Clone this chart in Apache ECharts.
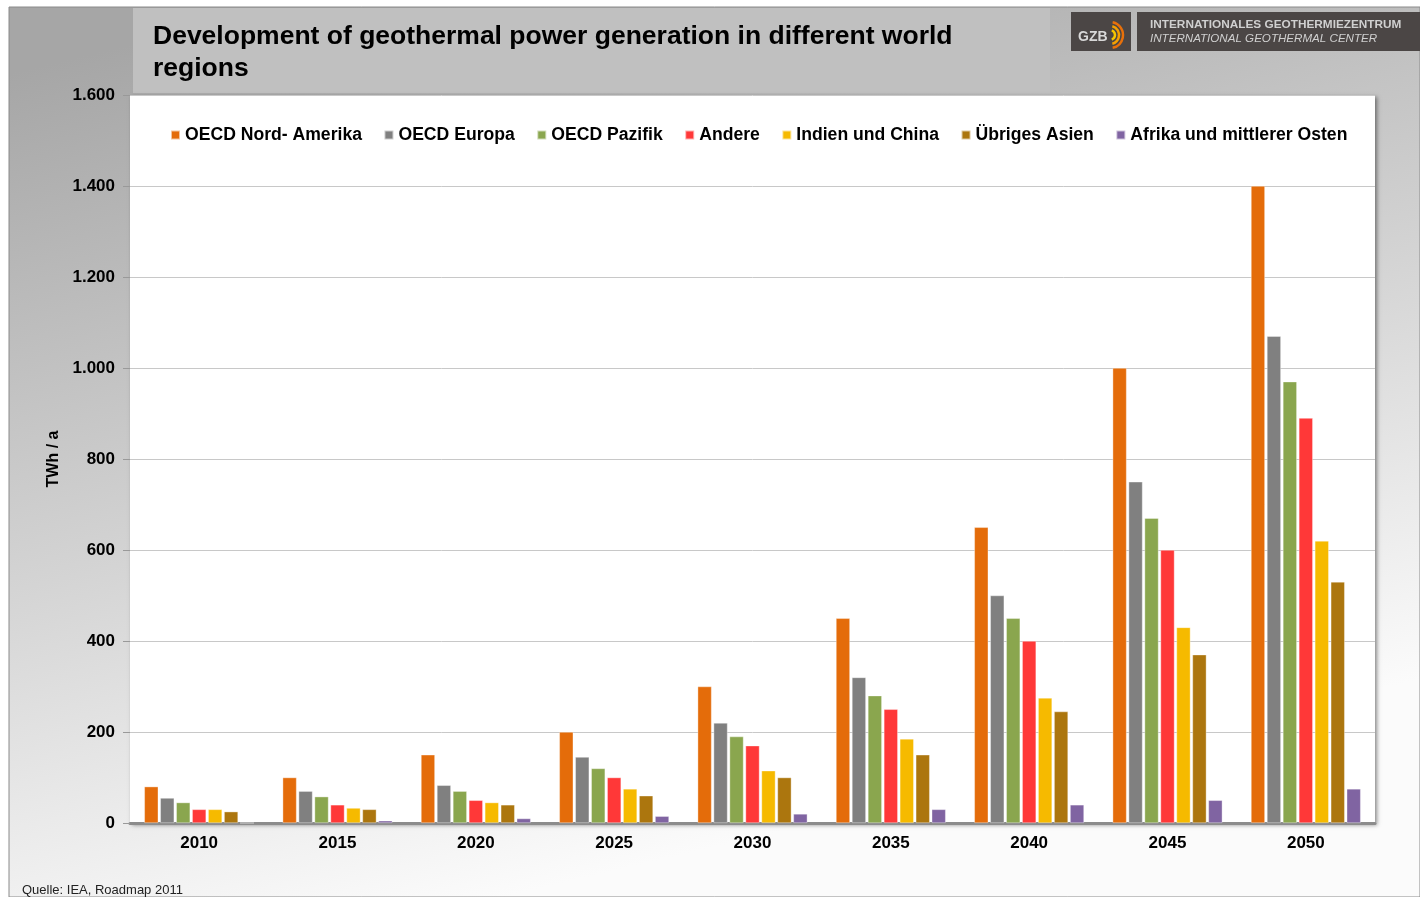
<!DOCTYPE html>
<html>
<head>
<meta charset="utf-8">
<script src="https://cdn.jsdelivr.net/npm/echarts@6/dist/echarts.min.js"></script>
<style>
html,body{margin:0;padding:0;background:#fff;}
#main{width:1420px;height:897px;}
</style>
</head>
<body>
<div id="main"></div>
<script>
const categories = ['2010','2015','2020','2025','2030','2035','2040','2045','2050'];
const seriesNames = ['OECD Nord- Amerika','OECD Europa','OECD Pazifik','Andere','Indien und China','Übriges Asien','Afrika und mittlerer Osten'];
const nordAmerika = [80, 100, 150, 200, 300, 450, 650, 1000, 1400];
const europa      = [55, 70, 83, 145, 220, 320, 500, 750, 1070];
const pazifik     = [45, 58, 70, 120, 190, 280, 450, 670, 970];
const andere      = [30, 40, 50, 100, 170, 250, 400, 600, 890];
const indienChina = [30, 33, 45, 75, 115, 185, 275, 430, 620];
const uebrAsien   = [25, 30, 40, 60, 100, 150, 245, 370, 530];
const afrikaMO    = [0, 5, 10, 15, 20, 30, 40, 50, 75];
const seriesData = [nordAmerika, europa, pazifik, andere, indienChina, uebrAsien, afrikaMO];
const colors = ['#E46C0A','#808080','#8AA64E','#FF3838','#F6BA00','#AC760E','#8064A2'];
const yTicks = [0,200,400,600,800,1000,1200,1400,1600];

const chart = echarts.init(document.getElementById('main'), null, {renderer:'canvas'});
const FONT = 'Liberation Sans, Arial, sans-serif';

function fmt(v){
  return String(v).replace(/\B(?=(\d{3})+(?!\d))/g, '.');
}

const option = {
  animation:false,
  backgroundColor:'#ffffff',
  graphic:[
    {type:'rect', z:-10, silent:true, shape:{x:9,y:7,width:1411,height:890},
     style:{fill:new echarts.graphic.LinearGradient(0.2,0,0.35,1,[
       {offset:0,color:'#a6a6a6'},{offset:0.55,color:'#d4d4d4'},{offset:1,color:'#fbfbfb'}]),
       stroke:'#8a8a8a', lineWidth:1}},
    {type:'rect', z:-9, silent:true, shape:{x:133,y:8,width:917,height:85}, style:{fill:'#c0c0c0'}},
    {type:'text', z:10, left:153, top:21, style:{text:'Development of geothermal power generation in different world\nregions', font:'bold 26.5px '+FONT, fill:'#000', lineHeight:32}},
    {type:'rect', z:5, shape:{x:1071,y:12,width:60,height:39}, style:{fill:'#4b4645'}},
    {type:'rect', z:5, shape:{x:1137,y:12,width:283,height:39}, style:{fill:'#4b4645'}},
    {type:'text', z:6, left:1078, top:30, style:{text:'GZB', font:'bold 14px '+FONT, fill:'#d8d8d8'}},
    {type:'arc', z:6, shape:{cx:1110,cy:35,r:5,startAngle:-Math.PI/2.6,endAngle:Math.PI/2.6}, style:{stroke:'#f7c600',lineWidth:2.5,fill:null}},
    {type:'arc', z:6, shape:{cx:1110,cy:35,r:9,startAngle:-Math.PI/2.4,endAngle:Math.PI/2.4}, style:{stroke:'#f5a000',lineWidth:2.5,fill:null}},
    {type:'arc', z:6, shape:{cx:1110,cy:35,r:13,startAngle:-Math.PI/2.3,endAngle:Math.PI/2.3}, style:{stroke:'#e8700a',lineWidth:2.5,fill:null}},
    {type:'text', z:6, left:1150, top:19, style:{text:'INTERNATIONALES GEOTHERMIEZENTRUM', font:'bold 11.8px '+FONT, fill:'#d0d0d0'}},
    {type:'text', z:6, left:1150, top:33, style:{text:'INTERNATIONAL GEOTHERMAL CENTER', font:'italic 11.6px '+FONT, fill:'#d0d0d0'}},
    {type:'text', z:6, left:22, top:884, style:{text:'Quelle: IEA, Roadmap 2011', font:'13px '+FONT, fill:'#222'}}
  ],
  legend:{
    top:121, left:165,
    itemWidth:9, itemHeight:9, icon:'rect', itemGap:21.5,
    textStyle:{fontFamily:FONT, fontWeight:'bold', fontSize:17.6, color:'#000'},
    data:seriesNames
  },
  grid:{
    left:130, right:45, top:95, bottom:74,
    show:true, backgroundColor:'#ffffff', borderWidth:0,
    shadowBlur:4, shadowColor:'rgba(0,0,0,0.45)', shadowOffsetX:2, shadowOffsetY:2
  },
  xAxis:{
    type:'category', data:categories,
    axisLine:{lineStyle:{color:'#8c8c8c', width:3}},
    axisTick:{show:false},
    axisLabel:{fontFamily:FONT, fontWeight:'bold', fontSize:17, color:'#000', margin:12}
  },
  yAxis:{
    type:'value', min:0, max:1600, interval:200,
    name:'TWh / a', nameLocation:'middle', nameGap:68, nameRotate:90,
    nameTextStyle:{fontFamily:FONT, fontWeight:'bold', fontSize:16, color:'#000'},
    axisLine:{show:false},
    axisTick:{show:true, length:7, lineStyle:{color:'#999'}},
    splitLine:{lineStyle:{color:'#c8c8c8', width:1}},
    axisLabel:{fontFamily:FONT, fontWeight:'bold', fontSize:17, color:'#000', margin:15,
      formatter:function(v){return yTicks.indexOf(v)>=0 ? fmt(v) : '';}}
  },
  series: seriesNames.map(function(n,i){
    return {
      name:n, type:'bar', data:seriesData[i],
      barWidth:14, barGap:'14%',
      itemStyle:{color:colors[i], borderColor:'rgba(255,255,255,0.6)', borderWidth:0.6}
    };
  })
};
chart.setOption(option);
</script>
</body>
</html>
